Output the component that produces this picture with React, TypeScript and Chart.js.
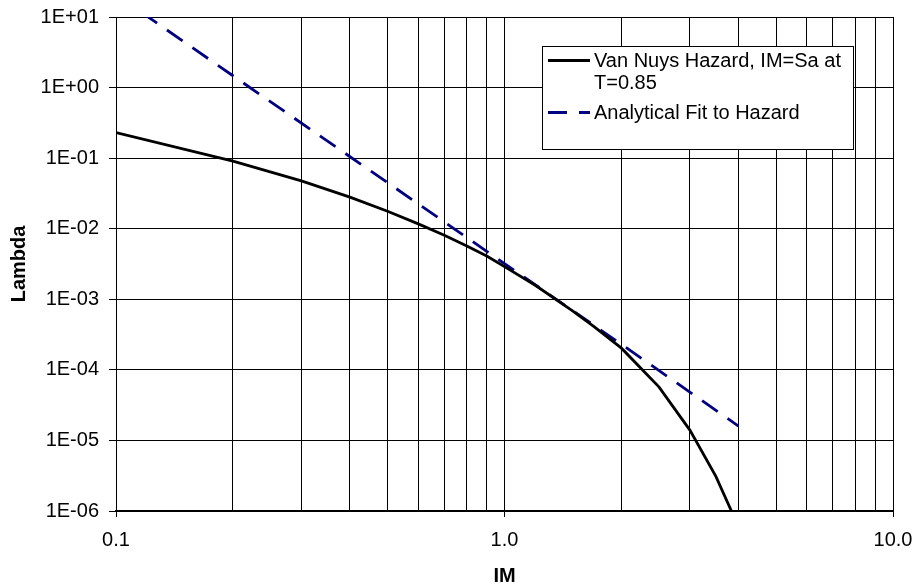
import React, { useEffect, useRef } from 'react';
import { Chart, registerables } from 'chart.js';

Chart.register(...registerables);

// Van Nuys hazard curve
const imHazard = [0.1, 0.2, 0.3, 0.4, 0.5, 0.6, 0.7, 0.8, 0.9, 1.0, 1.2, 1.5, 1.7, 2.0, 2.5, 3.0, 3.5, 4.0];
const lambdaHazard = [0.23, 0.091, 0.0475, 0.028, 0.0177, 0.0117, 0.0081, 0.0057, 0.0041, 0.0029, 0.00158, 0.00068, 0.00041, 0.000203, 0.000057, 0.000014, 0.0000031, 0.0000006];

// Analytical fit
const imFit = [0.1, 0.2, 0.5, 1.0, 2.0, 4.0];
const lambdaFit = [20.7, 1.47, 0.045, 0.0032, 0.00023, 0.000016];

const seriesLabels = [['Van Nuys Hazard, IM=Sa at', 'T=0.85'], ['Analytical Fit to Hazard']];

const xTicks = [0.1, 0.2, 0.3, 0.4, 0.5, 0.6, 0.7, 0.8, 0.9, 1, 2, 3, 4, 5, 6, 7, 8, 9, 10];
const xTickLabels = ['0.1', '', '', '', '', '', '', '', '', '1.0', '', '', '', '', '', '', '', '', '10.0'];
const yTicks = [1e-6, 1e-5, 1e-4, 1e-3, 1e-2, 1e-1, 1, 10];
const yTickLabels = ['1E-06', '1E-05', '1E-04', '1E-03', '1E-02', '1E-01', '1E+00', '1E+01'];

const FONT = 'Liberation Sans, Arial, sans-serif';
const FS = 20;

const isDecade = (v: number) => Math.abs(Math.log10(v) - Math.round(Math.log10(v))) < 1e-6;

const legendPlugin = {
  id: 'boxLegend',
  afterDraw(chart: any) {
    const ctx = chart.ctx;
    const area = chart.chartArea;
    const L = Math.round(area.right - 351);
    const T = Math.round(area.top + 29);
    const W = 311;
    const H = 103;
    ctx.save();
    ctx.fillStyle = '#ffffff';
    ctx.fillRect(L, T, W, H);
    ctx.strokeStyle = '#000000';
    ctx.lineWidth = 1;
    ctx.setLineDash([]);
    ctx.strokeRect(L + 0.5, T + 0.5, W, H);
    ctx.font = `${FS}px ${FONT}`;
    ctx.textBaseline = 'middle';
    ctx.textAlign = 'left';
    const rows = [T + 15.5, T + 67.5];
    chart.data.datasets.forEach((ds: any, i: number) => {
      const y = rows[i];
      ctx.strokeStyle = ds.borderColor;
      ctx.lineWidth = ds.borderWidth;
      ctx.setLineDash(ds.borderDash || []);
      ctx.beginPath();
      ctx.moveTo(L + 6, y - 1);
      ctx.lineTo(L + 48, y - 1);
      ctx.stroke();
      ctx.setLineDash([]);
      ctx.fillStyle = '#000000';
      seriesLabels[i].forEach((line, j) => {
        ctx.fillText(line, L + 52, y + j * 21.6);
      });
    });
    ctx.restore();
  },
};

export default function App() {
  const ref = useRef<HTMLCanvasElement>(null);
  useEffect(() => {
    const chart = new Chart(ref.current as HTMLCanvasElement, {
      type: 'line',
      data: {
        datasets: [
          {
            label: seriesLabels[0].join(' '),
            data: imHazard.map((x, i) => ({ x, y: lambdaHazard[i] })),
            borderColor: '#000000',
            borderWidth: 2.8,
            pointRadius: 0,
            fill: false,
            tension: 0,
          },
          {
            label: seriesLabels[1].join(' '),
            data: imFit.map((x, i) => ({ x, y: lambdaFit[i] })),
            borderColor: '#000080',
            borderWidth: 2.8,
            borderDash: [19, 12],
            pointRadius: 0,
            fill: false,
            tension: 0,
          },
        ],
      },
      options: {
        animation: false,
        responsive: false,
        devicePixelRatio: 1,
        layout: { padding: { top: 17, right: 22, left: 0, bottom: 0 } },
        plugins: { legend: { display: false }, tooltip: { enabled: false } },
        scales: {
          x: {
            type: 'logarithmic',
            min: 0.1,
            max: 10,
            afterBuildTicks: (scale: any) => {
              scale.ticks = xTicks.map((v) => ({ value: v, major: isDecade(v) }));
            },
            afterFit: (scale: any) => {
              scale.height = 75;
              scale.paddingLeft = 0;
              scale.paddingRight = 0;
            },
            ticks: {
              autoSkip: false,
              maxRotation: 0,
              minRotation: 0,
              padding: 11,
              color: '#000000',
              font: { family: FONT, size: FS },
              callback: (_v: any, i: number) => xTickLabels[i],
            },
            grid: {
              color: '#000000',
              lineWidth: 1,
              drawTicks: true,
              tickLength: 6,
              tickColor: (c: any) => (c.tick && isDecade(c.tick.value) ? '#000000' : 'rgba(0,0,0,0)'),
            },
            border: { display: true, color: '#000000', width: 2 },
            title: {
              display: true,
              text: 'IM',
              color: '#000000',
              font: { family: FONT, size: FS, weight: 'bold', lineHeight: 1 },
              padding: { top: 0, bottom: 0 },
            },
          },
          y: {
            type: 'logarithmic',
            min: 1e-6,
            max: 10,
            afterBuildTicks: (scale: any) => {
              scale.ticks = yTicks.map((v) => ({ value: v, major: true }));
            },
            afterFit: (scale: any) => {
              scale.width = 116;
              scale.paddingTop = 0;
              scale.paddingBottom = 0;
            },
            ticks: {
              autoSkip: false,
              padding: 10,
              color: '#000000',
              font: { family: FONT, size: FS },
              callback: (_v: any, i: number) => yTickLabels[i],
            },
            grid: {
              color: '#000000',
              lineWidth: 1,
              drawTicks: true,
              tickLength: 7,
              tickColor: '#000000',
            },
            border: { display: true, color: '#000000', width: 1 },
            title: {
              display: true,
              text: 'Lambda',
              color: '#000000',
              font: { family: FONT, size: FS, weight: 'bold', lineHeight: 1 },
              padding: { top: 9.5, bottom: 0 },
            },
          },
        },
      },
      plugins: [legendPlugin],
    } as any);
    return () => chart.destroy();
  }, []);
  return (
    <div style={{ position: 'absolute', left: 0, top: 0, width: 915, height: 586, background: '#ffffff' }}>
      <canvas ref={ref} width={915} height={586} style={{ width: 915, height: 586, display: 'block' }} />
    </div>
  );
}
